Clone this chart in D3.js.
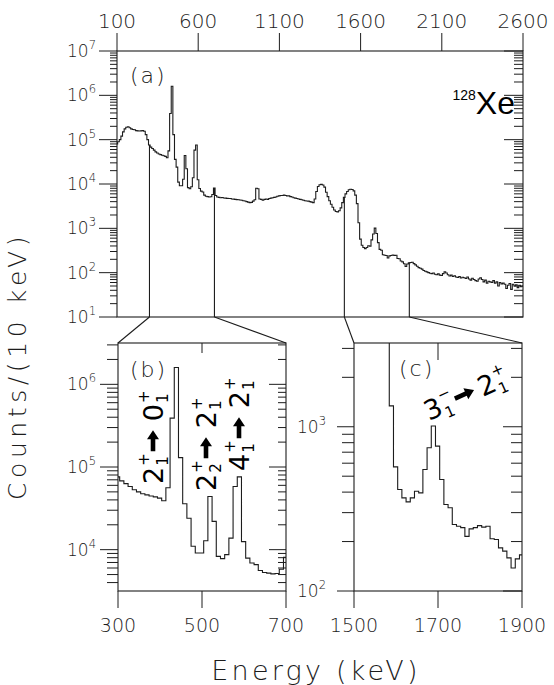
<!DOCTYPE html>
<html><head><meta charset="utf-8">
<script src="https://cdn.jsdelivr.net/npm/d3@7"></script>
<style>body{margin:0;background:#fff}</style>
</head><body>
<svg id="c" width="554" height="685"></svg>
<script>
// ---------------- data ----------------
const binStart = 94;      // keV, lower edge of first 10-keV bin
const binWidth = 10;
const counts = [
  /*  94 */ 8.0e4, 9.0e4, 1.0e5, 1.2e5, 1.5e5, 1.75e5, 1.9e5, 1.95e5, 1.85e5, 1.75e5,
  /* 194 */ 1.7e5, 1.68e5, 1.6e5, 1.58e5, 1.57e5, 1.58e5, 1.6e5, 1.55e5, 1.3e5, 1.0e5,
  /* 294 */ 7.6e4, 6.8e4, 6.3e4, 5.8e4, 5.3e4, 5.0e4, 4.75e4, 4.6e4, 4.45e4, 4.35e4,
  /* 394 */ 4.2e4, 3.9e4, 5.6e4, 3.9e5, 1.6e6, 1.3e5, 3.6e4, 2.4e4, 1.1e4, 9.1e3,
  /* 494 */ 9.1e3, 1.28e4, 4.4e4, 2.2e4, 8.3e3, 7.8e3, 8.7e3, 1.38e4, 5.8e4, 7.6e4,
  /* 594 */ 1.25e4, 7.9e3, 6.9e3, 6.6e3, 5.6e3, 5.3e3, 5.2e3, 5.1e3, 5.15e3, 5.8e3,
  /* 694 */ 8.1e3, 5.5e3, 5.1e3, 5.0e3, 4.9e3, 4.95e3, 4.85e3, 4.8e3, 4.75e3, 4.7e3,
  /* 794 */ 4.7e3, 4.6e3, 4.55e3, 4.5e3, 4.45e3, 4.4e3, 4.35e3, 4.3e3, 4.2e3, 4.15e3,
  /* 894 */ 4.0e3, 3.9e3, 3.8e3, 3.85e3, 4.1e3, 4.4e3, 8.0e3, 7.8e3, 4.6e3, 4.5e3,
  /* 994 */ 4.3e3, 4.5e3, 4.6e3, 4.5e3, 4.7e3, 4.8e3, 4.9e3, 5.0e3, 5.1e3, 5.3e3,
  /*1094 */ 5.4e3, 5.5e3, 5.5e3, 5.6e3, 5.5e3, 5.4e3, 5.4e3, 5.2e3, 5.1e3, 4.9e3,
  /*1194 */ 4.8e3, 4.7e3, 4.6e3, 4.5e3, 4.4e3, 4.3e3, 4.2e3, 4.15e3, 4.1e3, 4.0e3,
  /*1294 */ 3.9e3, 3.8e3, 4.6e3, 6.8e3, 8.8e3, 9.6e3, 9.8e3, 9.5e3, 8.5e3, 6.5e3,
  /*1394 */ 5.2e3, 4.2e3, 3.5e3, 3.0e3, 2.6e3, 2.4e3, 2.35e3, 2.5e3, 2.9e3, 3.8e3,
  /*1494 */ 5.0e3, 6.0e3, 6.8e3, 7.4e3, 7.6e3, 7.5e3, 7.0e3, 5.6e3, 3.6e3, 1340,
  /*1594 */ 570, 415, 369, 349, 369, 405, 396, 549, 745, 1010,
  /*1694 */ 762, 477, 336, 321, 254, 248, 243, 215, 239, 243,
  /*1794 */ 250, 245, 248, 208, 206, 183, 175, 159, 138, 157,
  /*1894 */ 166, 170, 172, 160, 150, 140, 130, 126, 120, 112,
  /*1994 */ 108, 104, 100, 97, 95, 98, 92, 90, 94, 88,
  /*2094 */ 86, 95, 104, 98, 90, 84, 88, 82, 85, 80,
  /*2194 */ 78, 82, 76, 79, 77, 74, 80, 72, 68, 75,
  /*2294 */ 70, 66, 64, 72, 77, 70, 62, 68, 58, 64,
  /*2394 */ 62, 60, 66, 58, 62, 50, 60, 56, 58, 55,
  /*2494 */ 44, 52, 57, 42, 55, 50, 53, 46, 52, 48,
  /*2594 */ 50
];
const topTicks = [100, 600, 1100, 1600, 2100, 2600];
const bTicks = [300, 500, 700];
const cTicks = [1500, 1700, 1900];
const zoomB = [300, 700];
const zoomC = [1500, 1900];
const transB = [
  { from: ['2', '1', '+'], to: ['0', '1', '+'] },
  { from: ['2', '2', '+'], to: ['2', '1', '+'] },
  { from: ['4', '1', '+'], to: ['2', '1', '+'] }
];
const transC = { from: ['3', '1', '\u2212'], to: ['2', '1', '+'] };
const nucleus = { mass: '128', sym: 'Xe' };
const xTitle = 'Energy (keV)';
const yTitle = 'Counts/(10 keV)';

// ---------------- drawing ----------------
const svg = d3.select('#c');
const INK = '#1c1c1c';
const LF = '"DejaVu Sans", sans-serif';
const AF = '"Liberation Sans", Arial, sans-serif';
const TF = '"DejaVu Sans", sans-serif';

const A = { x: d3.scaleLinear().domain([100, 2600]).range([117, 523]),
            y: d3.scaleLog().domain([10, 1e7]).range([317, 51]) };
const B = { x: d3.scaleLinear().domain(zoomB).range([118, 286]),
            y: d3.scaleLog().domain([Math.pow(10, 3.5), Math.pow(10, 6.5)]).range([591, 343]) };
const C = { x: d3.scaleLinear().domain(zoomC).range([354, 522]),
            y: d3.scaleLog().domain([100, Math.pow(10, 3.51)]).range([591, 343]) };

const bins = counts.map((v, i) => ({ e: binStart + i * binWidth, v }));
function stepData(lo, hi) {
  const d = bins.filter(b => b.e + binWidth > lo && b.e < hi);
  const last = d[d.length - 1];
  d.push({ e: last.e + binWidth, v: last.v });
  return d;
}
function valueAt(E) { return counts[Math.floor((E - binStart) / binWidth)]; }

const defs = svg.append('defs');
function drawSpectrum(P, id) {
  const [x0, x1] = P.x.range(), [y0, y1] = P.y.range();
  defs.append('clipPath').attr('id', id).append('rect')
    .attr('x', x0).attr('y', y1).attr('width', x1 - x0).attr('height', y0 - y1);
  const line = d3.line().x(d => P.x(d.e)).y(d => P.y(d.v)).curve(d3.curveStepAfter);
  svg.append('path').datum(stepData(...P.x.domain()))
    .attr('clip-path', `url(#${id})`)
    .attr('d', line).attr('fill', 'none').attr('stroke', INK).attr('stroke-width', 1.1);
}
function frame(P) {
  const [x0, x1] = P.x.range(), [y0, y1] = P.y.range();
  svg.append('rect').attr('x', x0).attr('y', y1).attr('width', x1 - x0).attr('height', y0 - y1)
    .attr('fill', 'none').attr('stroke', INK).attr('stroke-width', 1.1);
}
function logVals(lo, hi) {
  const out = [];
  for (let n = Math.floor(Math.log10(lo)); n <= Math.ceil(Math.log10(hi)); n++)
    for (let k = 1; k < 10; k++) {
      const t = k * Math.pow(10, n);
      if (t >= lo * 0.9999 && t <= hi * 1.0001) out.push({ t, major: k === 1, n });
    }
  return out;
}
function yTicks(P, lenL, minL, lenR, minR, labelX, fs) {
  const [x0, x1] = P.x.range();
  const vals = logVals(...P.y.domain());
  const g = svg.append('g').attr('stroke', INK).attr('stroke-width', 1);
  vals.forEach(d => {
    const yy = P.y(d.t);
    g.append('line').attr('x1', x0 - (d.major ? lenL : minL)).attr('x2', x0).attr('y1', yy).attr('y2', yy);
    g.append('line').attr('x1', x1 - (d.major ? lenR : minR)).attr('x2', x1).attr('y1', yy).attr('y2', yy);
  });
  vals.filter(d => d.major).forEach(d => {
    const t = svg.append('text').attr('x', labelX).attr('y', P.y(d.t) + 6)
      .attr('text-anchor', 'end').attr('font-family', LF).attr('font-weight', 200)
      .attr('font-size', fs).attr('fill', INK);
    t.append('tspan').text('10');
    t.append('tspan').attr('dy', -8).attr('font-size', fs * 0.68).text(d.n);
  });
}
function xTicksBottom(P, ticks, midTop) {
  const y0 = P.y.range()[0], y1 = P.y.range()[1];
  ticks.forEach(v => {
    const xx = P.x(v);
    svg.append('line').attr('x1', xx).attr('x2', xx).attr('y1', y0).attr('y2', y0 + 17)
      .attr('stroke', INK);
    svg.append('text').attr('x', xx).attr('y', y0 + 41).attr('text-anchor', 'middle')
      .attr('font-family', LF).attr('font-weight', 200).attr('font-size', 19).attr('fill', INK).text(v);
  });
  const m = P.x(ticks[1]);
  svg.append('line').attr('x1', m).attr('x2', m).attr('y1', y1).attr('y2', y1 + midTop).attr('stroke', INK);
}

// Panel (a)
drawSpectrum(A, 'clipA');
frame(A);
yTicks(A, 18, 7, 19, 9, 96, 17);
topTicks.forEach(v => {
  const xx = A.x(v);
  svg.append('line').attr('x1', xx).attr('x2', xx).attr('y1', 51).attr('y2', 33).attr('stroke', INK);
  svg.append('text').attr('x', xx).attr('y', 28).attr('text-anchor', 'middle')
    .attr('font-family', LF).attr('font-weight', 200).attr('font-size', 20).attr('fill', INK).text(v);
});

// zoom markers and connectors
[[zoomB, B], [zoomC, C]].forEach(([rng, P]) => {
  rng.forEach(E => {
    const xx = A.x(E);
    svg.append('line').attr('x1', xx).attr('x2', xx).attr('y1', A.y(valueAt(E))).attr('y2', 317)
      .attr('stroke', INK).attr('stroke-width', 1.1);
    svg.append('line').attr('x1', xx).attr('x2', P.x(E)).attr('y1', 317).attr('y2', 343)
      .attr('stroke', INK).attr('stroke-width', 1.1);
  });
});

// Panel (b)
drawSpectrum(B, 'clipB');
frame(B);
yTicks(B, 18, 11, 17, 8, 96, 17);
xTicksBottom(B, bTicks, 10);

// Panel (c)
drawSpectrum(C, 'clipC');
frame(C);
yTicks(C, 17, 12, 19, 11, 326, 17);
xTicksBottom(C, cTicks, 17);

// Panel letters
[['(a)', 130, 83], ['(b)', 130, 377], ['(c)', 399, 376]].forEach(([s, x, y]) => {
  svg.append('text').attr('x', x).attr('y', y).attr('font-family', LF).attr('font-weight', 200)
    .attr('font-size', 22).attr('letter-spacing', 2).attr('fill', INK).text(s);
});

// nucleus label
const nl = svg.append('text').attr('x', 515).attr('y', 114).attr('text-anchor', 'end')
  .attr('font-family', AF).attr('fill', '#000');
nl.append('tspan').attr('font-size', 14).attr('dy', -14).text(nucleus.mass);
nl.append('tspan').attr('font-size', 32).attr('dy', 14).text(nucleus.sym);

// axis titles
svg.append('text').attr('x', 316).attr('y', 680).attr('text-anchor', 'middle')
  .attr('font-family', LF).attr('font-weight', 200).attr('font-size', 27).attr('letter-spacing', 3.2)
  .attr('fill', INK).text(xTitle);
svg.append('text').attr('transform', 'translate(26,366) rotate(-90)').attr('text-anchor', 'middle')
  .attr('font-family', LF).attr('font-weight', 200).attr('font-size', 25).attr('letter-spacing', 4.6)
  .attr('fill', INK).text(yTitle);

// transition annotations
function level(g, x, [main, sub, sup]) {
  const t = g.append('text').attr('x', x).attr('y', 0).attr('font-size', 27).text(main);
  const w = t.node().getComputedTextLength();
  const s1 = g.append('text').attr('x', x + w + 1).attr('y', -14).attr('font-size', 15).text(sup);
  const s2 = g.append('text').attr('x', x + w + 1).attr('y', 5).attr('font-size', 15).text(sub);
  const w2 = Math.max(s1.node().getComputedTextLength(), s2.node().getComputedTextLength());
  return x + w + 1 + w2;
}
function arrow(g, x, L) {
  const yc = -10, sh = 2.3, hl = 9, hw = 6;
  g.append('path').attr('d',
    `M${x},${yc - sh}L${x + L - hl},${yc - sh}L${x + L - hl},${yc - hw}L${x + L},${yc}` +
    `L${x + L - hl},${yc + hw}L${x + L - hl},${yc + sh}L${x},${yc + sh}Z`).attr('fill', '#000');
  return x + L;
}
function transition(tr, transform, gap) {
  const g = svg.append('g').attr('transform', transform).attr('font-family', TF).attr('fill', '#000');
  let x = level(g, 0, tr.from);
  x = arrow(g, x + 2, 21);
  level(g, x + gap, tr.to);
}
transition(transB[0], 'translate(163,484) rotate(-90)', 9);
transition(transB[1], 'translate(216,491) rotate(-90)', 9);
transition(transB[2], 'translate(249,471) rotate(-90)', 9);
transition(transC, 'translate(429,421) rotate(-24)', 5);
</script>
</body></html>
